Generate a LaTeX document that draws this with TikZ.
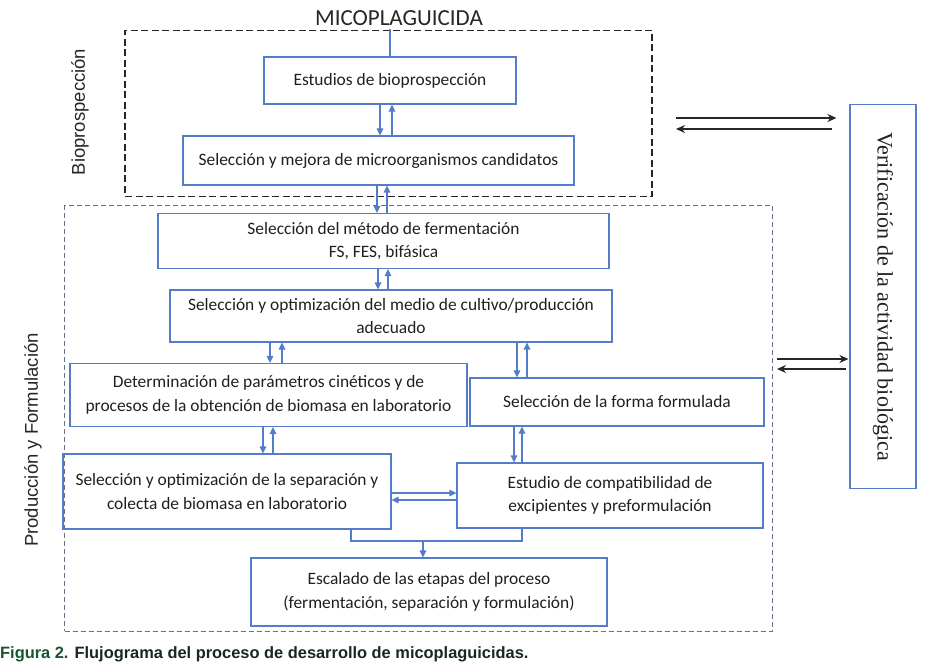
\documentclass[tikz,border=0pt]{standalone}
\usepackage{fontspec}
\setmainfont{Carlito}
\newfontfamily\arialfont{Liberation Sans}
\newfontfamily\timesfont{Liberation Serif}
\usetikzlibrary{arrows.meta}
\definecolor{azul}{RGB}{84,124,200}
\definecolor{gris}{RGB}{100,115,135}
\definecolor{verde}{RGB}{22,84,50}
\definecolor{tinta}{RGB}{24,40,30}
\tikzset{
	caja/.style={draw=azul, line width=1.15pt, align=center, text=black!88, inner sep=0pt, font=\fontsize{17.4}{23.5}\selectfont},
	marcobio/.style={draw=black!85, line width=1.2pt, dash pattern=on 7pt off 3.5pt, inner sep=0pt},
	marcoprod/.style={draw=gris, line width=1pt, dash pattern=on 5pt off 3pt, inner sep=0pt},
	linea/.style={draw=azul, line width=1.15pt},
	flecha/.style={draw=azul, line width=1.15pt, -{Triangle[length=7pt,width=6.5pt]}},
	negra/.style={draw=black!85, line width=1.4pt, -{Stealth[length=9pt,width=8pt]}},
	lateral/.style={rotate=90, text=black!85, font=\arialfont\fontsize{18.5}{18.5}\selectfont}
}

\begin{document}
\begin{tikzpicture}[x=1pt,y=-1pt]
			%%%%% START %%%%%
			\useasboundingbox (0,0) rectangle (926,663);
			
			\node[marcobio, minimum width=527pt, minimum height=166pt] (bio) at (388.5,113.5) {};
			\node[marcoprod, minimum width=708pt, minimum height=425pt] (prod) at (418.5,418.5) {};
			
			\node[text=black!85, font=\fontsize{23}{23}\selectfont] (tit) at (399,18) {MICOPLAGUICIDA};
			\node[lateral] (lbio) at (80,112) {Bioprospección};
			\node[lateral] (lprod) at (33,440) {Producción y Formulación};
			
			\node[caja, minimum width=252pt, minimum height=47pt] (est) at (390,80.5) {Estudios de bioprospección};
			\node[caja, minimum width=391pt, minimum height=49pt] (can) at (378.5,160.5) {Selección y mejora de microorganismos candidatos};
			\node[caja, minimum width=451pt, minimum height=55pt] (fer) at (383.5,241) {Selección del método de fermentación\\FS, FES, bifásica};
			\node[caja, minimum width=442pt, minimum height=52pt] (med) at (391,316) {Selección y optimización del medio de cultivo/producción\\adecuado};
			\node[caja, minimum width=397pt, minimum height=63pt] (det) at (268.5,395) {Determinación de parámetros cinéticos y de\\procesos de la obtención de biomasa en laboratorio};
			\node[caja, minimum width=294pt, minimum height=48pt] (for) at (617,402) {Selección de la forma formulada};
			\node[caja, minimum width=328pt, minimum height=75pt] (sep) at (227,491.5) {Selección y optimización de la separación y\\colecta de biomasa en laboratorio};
			\node[caja, minimum width=306pt, minimum height=65pt] (com) at (610,495.5) {Estudio de compatibilidad de\\excipientes y preformulación};
			\node[caja, minimum width=356pt, minimum height=68pt] (esc) at (429,592) {Escalado de las etapas del proceso\\(fermentación, separación y formulación)};
			\node[caja, minimum width=66pt, minimum height=384pt] (ver) at (883,296.5) {\rotatebox{-90}{\timesfont\fontsize{22}{22}\selectfont Verificación de la actividad biológica}};
			
			\draw[linea] (est.north |- tit.south) -- (est.north);
			
			\draw[flecha] ([xshift=-10pt]est.south) -- ([xshift=-10pt]est.south |- can.north);
			\draw[flecha] ([xshift=2pt]est.south |- can.north) -- ([xshift=2pt]est.south);
			\draw[flecha] ([xshift=-1.5pt]can.south) -- ([xshift=-1.5pt]can.south |- fer.north);
			\draw[flecha] ([xshift=8.5pt]can.south |- fer.north) -- ([xshift=8.5pt]can.south);
			\draw[flecha] ([xshift=-5.5pt]fer.south) -- ([xshift=-5.5pt]fer.south |- med.north);
			\draw[flecha] ([xshift=4.5pt]fer.south |- med.north) -- ([xshift=4.5pt]fer.south);
			
			\draw[flecha] ([xshift=1.5pt]det.north |- med.south) -- ([xshift=1.5pt]det.north);
			\draw[flecha] ([xshift=13.5pt]det.north) -- ([xshift=13.5pt]det.north |- med.south);
			\draw[flecha] ([xshift=-100pt]for.north |- med.south) -- ([xshift=-100pt]for.north);
			\draw[flecha] ([xshift=-90pt]for.north) -- ([xshift=-90pt]for.north |- med.south);
			
			\draw[flecha] ([xshift=-5.5pt]det.south) -- ([xshift=-5.5pt]det.south |- sep.north);
			\draw[flecha] ([xshift=4.5pt]det.south |- sep.north) -- ([xshift=4.5pt]det.south);
			\draw[flecha] ([xshift=-103pt]for.south) -- ([xshift=-103pt]for.south |- com.north);
			\draw[flecha] ([xshift=-95pt]for.south |- com.north) -- ([xshift=-95pt]for.south);
			
			\draw[flecha] ([yshift=-1.5pt]sep.east) -- ([yshift=-1.5pt]sep.east -| com.west);
			\draw[flecha] ([yshift=-8.5pt]sep.east -| com.west) -- ([yshift=-8.5pt]sep.east);
			
			\coordinate (j) at (423,541);
			\draw[linea] ([xshift=124pt]sep.south) |- (j) -| ([xshift=-88pt]com.south);
			\draw[flecha] (j) -- (j |- esc.north);
			
			\coordinate (v1) at (676,118);
			\coordinate (v2) at (676,129);
			\coordinate (v3) at (777,359);
			\coordinate (v4) at (777,369);
			\draw[negra] (v1) -- ([xshift=-13pt]v1 -| ver.west);
			\draw[negra] ([xshift=-17pt]v2 -| ver.west) -- (v2);
			\draw[negra] (v3) -- ([xshift=-1pt]v3 -| ver.west);
			\draw[negra] ([xshift=-3pt]v4 -| ver.west) -- (v4);
			
			\node[anchor=west, inner sep=0pt, text=tinta, font=\arialfont\bfseries\fontsize{16.4}{16.4}\selectfont] (pie) at (0,654) {\textcolor{verde}{Figura 2.} Flujograma del proceso de desarrollo de micoplaguicidas.};
			%%%%% END %%%%%
\end{tikzpicture}
\end{document}
